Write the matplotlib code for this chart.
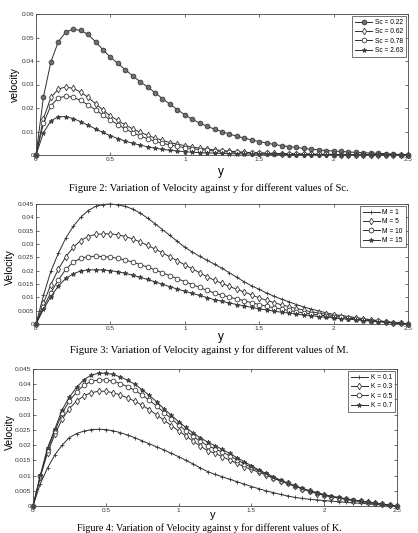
import numpy as np
import matplotlib
matplotlib.use("Agg")
import matplotlib.pyplot as plt

# grid of y positions (every 0.05 from 0 to 2.5)
y_pos = np.linspace(0, 2.5, 51)

# Figure 2: velocity for different Sc
sc_labels = ["Sc = 0.22", "Sc = 0.62", "Sc = 0.78", "Sc = 2.63"]
sc_022 = [0.0, 0.0247, 0.0396, 0.0482, 0.0523, 0.0535, 0.0530, 0.0513, 0.0482, 0.0448,
          0.0416, 0.0390, 0.0363, 0.0337, 0.0312, 0.0290, 0.0265, 0.0240, 0.0216, 0.0193,
          0.0171, 0.0152, 0.0136, 0.0122, 0.0110, 0.0099, 0.0089, 0.0080, 0.0072, 0.0064,
          0.0057, 0.0051, 0.0045, 0.0040, 0.0036, 0.0032, 0.0028, 0.0025, 0.0022, 0.0019,
          0.0017, 0.0015, 0.0013, 0.0011, 0.0010, 0.0008, 0.0007, 0.0006, 0.0004, 0.0002,
          0.0]
sc_062 = [0.0, 0.0155, 0.0245, 0.0280, 0.0290, 0.0283, 0.0268, 0.0245, 0.0218, 0.0191,
          0.0167, 0.0147, 0.0128, 0.0111, 0.0097, 0.0084, 0.0072, 0.0062, 0.0053, 0.0046,
          0.0040, 0.0034, 0.0029, 0.0025, 0.0022, 0.0019, 0.0016, 0.0014, 0.0012, 0.0010,
          0.0009, 0.0008, 0.0007, 0.0006, 0.0005, 0.0005, 0.0004, 0.0004, 0.0003, 0.0003,
          0.0003, 0.0002, 0.0002, 0.0002, 0.0002, 0.0001, 0.0001, 0.0001, 0.0001, 0.0001,
          0.0]
sc_078 = [0.0, 0.0135, 0.0210, 0.0243, 0.0250, 0.0246, 0.0232, 0.0213, 0.0192, 0.0170,
          0.0149, 0.0129, 0.0111, 0.0095, 0.0081, 0.0069, 0.0059, 0.0050, 0.0043, 0.0037,
          0.0031, 0.0027, 0.0023, 0.0020, 0.0017, 0.0015, 0.0013, 0.0011, 0.0010, 0.0009,
          0.0008, 0.0007, 0.0006, 0.0005, 0.0005, 0.0004, 0.0004, 0.0003, 0.0003, 0.0003,
          0.0002, 0.0002, 0.0002, 0.0002, 0.0001, 0.0001, 0.0001, 0.0001, 0.0001, 0.0001,
          0.0]
sc_263 = [0.0, 0.0095, 0.0145, 0.0163, 0.0163, 0.0155, 0.0142, 0.0127, 0.0111, 0.0096,
          0.0082, 0.0070, 0.0059, 0.0050, 0.0042, 0.0035, 0.0029, 0.0024, 0.0020, 0.0017,
          0.0014, 0.0012, 0.0010, 0.0009, 0.0008, 0.0007, 0.0006, 0.0005, 0.0005, 0.0004,
          0.0004, 0.0003, 0.0003, 0.0003, 0.0002, 0.0002, 0.0002, 0.0002, 0.0001, 0.0001,
          0.0001, 0.0001, 0.0001, 0.0001, 0.0001, 0.0001, 0.0, 0.0, 0.0, 0.0,
          0.0]

# Figure 3: velocity for different M
m_labels = ["M = 1", "M = 5", "M = 10", "M = 15"]
m_1 = [0.0, 0.0107, 0.0198, 0.0265, 0.0322, 0.0366, 0.0400, 0.0425, 0.0441, 0.0448,
       0.0450, 0.0447, 0.0441, 0.0431, 0.0416, 0.0397, 0.0376, 0.0354, 0.0332, 0.0310,
       0.0288, 0.0270, 0.0254, 0.0239, 0.0224, 0.0209, 0.0192, 0.0175, 0.0158, 0.0143,
       0.0130, 0.0116, 0.0104, 0.0093, 0.0083, 0.0073, 0.0064, 0.0056, 0.0049, 0.0042,
       0.0036, 0.0032, 0.0028, 0.0024, 0.0020, 0.0016, 0.0013, 0.0009, 0.0006, 0.0003,
       0.0]
m_5 = [0.0, 0.0078, 0.0148, 0.0205, 0.0252, 0.0287, 0.0313, 0.0328, 0.0336, 0.0338,
       0.0338, 0.0335, 0.0328, 0.0319, 0.0308, 0.0295, 0.0281, 0.0267, 0.0252, 0.0237,
       0.0222, 0.0207, 0.0192, 0.0177, 0.0164, 0.0152, 0.0141, 0.0130, 0.0120, 0.0109,
       0.0098, 0.0089, 0.0080, 0.0072, 0.0065, 0.0058, 0.0052, 0.0046, 0.0041, 0.0036,
       0.0032, 0.0028, 0.0024, 0.0021, 0.0017, 0.0014, 0.0011, 0.0008, 0.0005, 0.0003,
       0.0]
m_10 = [0.0, 0.0062, 0.0118, 0.0165, 0.0205, 0.0232, 0.0246, 0.0253, 0.0254, 0.0253,
        0.0251, 0.0246, 0.0240, 0.0232, 0.0223, 0.0213, 0.0203, 0.0192, 0.0181, 0.0170,
        0.0159, 0.0148, 0.0137, 0.0126, 0.0116, 0.0108, 0.0101, 0.0094, 0.0087, 0.0080,
        0.0073, 0.0067, 0.0061, 0.0056, 0.0051, 0.0046, 0.0042, 0.0038, 0.0034, 0.0031,
        0.0028, 0.0025, 0.0022, 0.0019, 0.0016, 0.0013, 0.0010, 0.0008, 0.0005, 0.0003,
        0.0]
m_15 = [0.0, 0.0055, 0.0103, 0.0142, 0.0171, 0.0188, 0.0199, 0.0203, 0.0203, 0.0203,
        0.0200, 0.0196, 0.0190, 0.0183, 0.0175, 0.0167, 0.0158, 0.0149, 0.0140, 0.0131,
        0.0123, 0.0115, 0.0107, 0.0099, 0.0091, 0.0085, 0.0079, 0.0073, 0.0068, 0.0062,
        0.0057, 0.0053, 0.0048, 0.0044, 0.0041, 0.0037, 0.0034, 0.0031, 0.0028, 0.0025,
        0.0023, 0.0020, 0.0018, 0.0016, 0.0013, 0.0011, 0.0009, 0.0006, 0.0004, 0.0002,
        0.0]

# Figure 4: velocity for different K
k_labels = ["K = 0.1", "K = 0.3", "K = 0.5", "K = 0.7"]
k_01 = [0.0, 0.0073, 0.0125, 0.0168, 0.0200, 0.0225, 0.0238, 0.0246, 0.0251, 0.0252,
        0.0251, 0.0247, 0.0241, 0.0233, 0.0224, 0.0214, 0.0204, 0.0194, 0.0184, 0.0173,
        0.0162, 0.0150, 0.0138, 0.0125, 0.0113, 0.0104, 0.0096, 0.0088, 0.0080, 0.0072,
        0.0064, 0.0057, 0.0050, 0.0044, 0.0038, 0.0033, 0.0028, 0.0025, 0.0022, 0.0020,
        0.0018, 0.0016, 0.0014, 0.0012, 0.0010, 0.0009, 0.0007, 0.0005, 0.0003, 0.0002,
        0.0]
k_03 = [0.0, 0.0095, 0.0175, 0.0235, 0.0285, 0.0320, 0.0345, 0.0362, 0.0372, 0.0377,
        0.0377, 0.0372, 0.0365, 0.0355, 0.0344, 0.0331, 0.0316, 0.0299, 0.0282, 0.0264,
        0.0247, 0.0230, 0.0213, 0.0196, 0.0182, 0.0173, 0.0162, 0.0151, 0.0140, 0.0129,
        0.0120, 0.0111, 0.0102, 0.0091, 0.0082, 0.0074, 0.0065, 0.0056, 0.0048, 0.0041,
        0.0035, 0.0030, 0.0026, 0.0022, 0.0018, 0.0015, 0.0012, 0.0009, 0.0006, 0.0003,
        0.0]
k_05 = [0.0, 0.0098, 0.0185, 0.0245, 0.0305, 0.0345, 0.0375, 0.0397, 0.0409, 0.0414,
        0.0414, 0.0410, 0.0402, 0.0392, 0.0380, 0.0364, 0.0347, 0.0328, 0.0307, 0.0287,
        0.0266, 0.0247, 0.0229, 0.0212, 0.0198, 0.0188, 0.0177, 0.0165, 0.0152, 0.0139,
        0.0127, 0.0115, 0.0104, 0.0093, 0.0083, 0.0074, 0.0065, 0.0057, 0.0049, 0.0043,
        0.0036, 0.0031, 0.0027, 0.0023, 0.0019, 0.0016, 0.0012, 0.0009, 0.0006, 0.0003,
        0.0]
k_07 = [0.0, 0.0101, 0.0191, 0.0253, 0.0316, 0.0358, 0.0390, 0.0415, 0.0430, 0.0436,
        0.0436, 0.0432, 0.0424, 0.0413, 0.0400, 0.0382, 0.0363, 0.0342, 0.0319, 0.0298,
        0.0277, 0.0258, 0.0240, 0.0224, 0.0210, 0.0198, 0.0186, 0.0173, 0.0159, 0.0146,
        0.0132, 0.0119, 0.0107, 0.0096, 0.0085, 0.0075, 0.0067, 0.0058, 0.0050, 0.0044,
        0.0037, 0.0032, 0.0028, 0.0024, 0.0020, 0.0016, 0.0013, 0.0009, 0.0006, 0.0003,
        0.0]

W, H = 418, 533
fig = plt.figure(figsize=(W / 100, H / 100), dpi=100)
fig.patch.set_facecolor("white")

line_col = "#2e2e2e"
tick_font = "Liberation Sans"
cap_font = "Liberation Serif"


def px_axes(left, top, right, bottom):
    return fig.add_axes([left / W, 1 - bottom / H, (right - left) / W, (bottom - top) / H])


def style_axes(ax, ymax, ystep):
    ax.set_xlim(0, 2.5)
    ax.set_ylim(0, ymax)
    ax.set_xticks([0, 0.5, 1, 1.5, 2, 2.5])
    ax.set_xticklabels(["0", "0.5", "1", "1.5", "2", "2.5"])
    yt = np.round(np.arange(0, ymax + ystep / 2, ystep), 4)
    ax.set_yticks(yt)
    ax.set_yticklabels(["0"] + ["%g" % v for v in yt[1:]])
    ax.tick_params(direction="in", top=True, right=True, length=2.5, width=0.5,
                   labelsize=4.6, pad=1.5, colors="#333333")
    for lab in ax.get_xticklabels() + ax.get_yticklabels():
        lab.set_family(tick_font)
    for s in ax.spines.values():
        s.set_linewidth(0.6)
        s.set_color("#444444")


def draw(ax, series, labels, markers, fills):
    for vals, lab, mk, fc in zip(series, labels, markers, fills):
        ax.plot(y_pos, vals, color=line_col, lw=0.7, marker=mk, ms=3.4,
                mfc=fc, mec="#3a3a3a", mew=0.6, label=lab, clip_on=False)
    leg = ax.legend(loc="upper right", frameon=True, fancybox=False,
                    edgecolor="#333333", borderaxespad=0.35, handlelength=2.6,
                    labelspacing=0.35, borderpad=0.4, handletextpad=0.4,
                    prop={"family": tick_font, "size": 4.8})
    leg.get_frame().set_linewidth(0.6)


# panel 1
ax1 = px_axes(36, 14, 408, 155)
draw(ax1, [sc_022, sc_062, sc_078, sc_263], sc_labels,
     ["o", "d", "o", "*"], ["#6f6f6f", "white", "white", "#505050"])
style_axes(ax1, 0.06, 0.01)

# panel 2
ax2 = px_axes(36, 204, 408, 324)
draw(ax2, [m_1, m_5, m_10, m_15], m_labels,
     ["+", "d", "o", "*"], ["#3a3a3a", "white", "white", "#505050"])
style_axes(ax2, 0.045, 0.005)

# panel 3
ax3 = px_axes(33, 369, 397, 506)
draw(ax3, [k_01, k_03, k_05, k_07], k_labels,
     ["+", "d", "o", "*"], ["#3a3a3a", "white", "white", "#505050"])
style_axes(ax3, 0.045, 0.005)


# axis labels and captions
def ftext(x, y, s, **kw):
    fig.text(x / W, 1 - y / H, s, ha="center", va="center", **kw)


ftext(15, 85, "velocity", rotation=90, fontsize=7.5, family=tick_font)
ftext(10, 267, "Velocity", rotation=90, fontsize=7.5, family=tick_font)
ftext(10, 432, "Velocity", rotation=90, fontsize=7.5, family=tick_font)

ftext(221, 172, "y", fontsize=8.5, family=tick_font)
ftext(221, 337, "y", fontsize=8.5, family=tick_font)
ftext(213, 515.5, "y", fontsize=8, family=tick_font)

ftext(209, 188, "Figure 2: Variation of Velocity against y for different values of Sc.",
      fontsize=7.6, family=cap_font)
ftext(209, 350, "Figure 3: Variation of Velocity against y for different values of M.",
      fontsize=7.6, family=cap_font)
ftext(209, 528.5, "Figure 4: Variation of Velocity against y for different values of K.",
      fontsize=7.2, family=cap_font)

fig.savefig("out.png", dpi=100, facecolor="white")
